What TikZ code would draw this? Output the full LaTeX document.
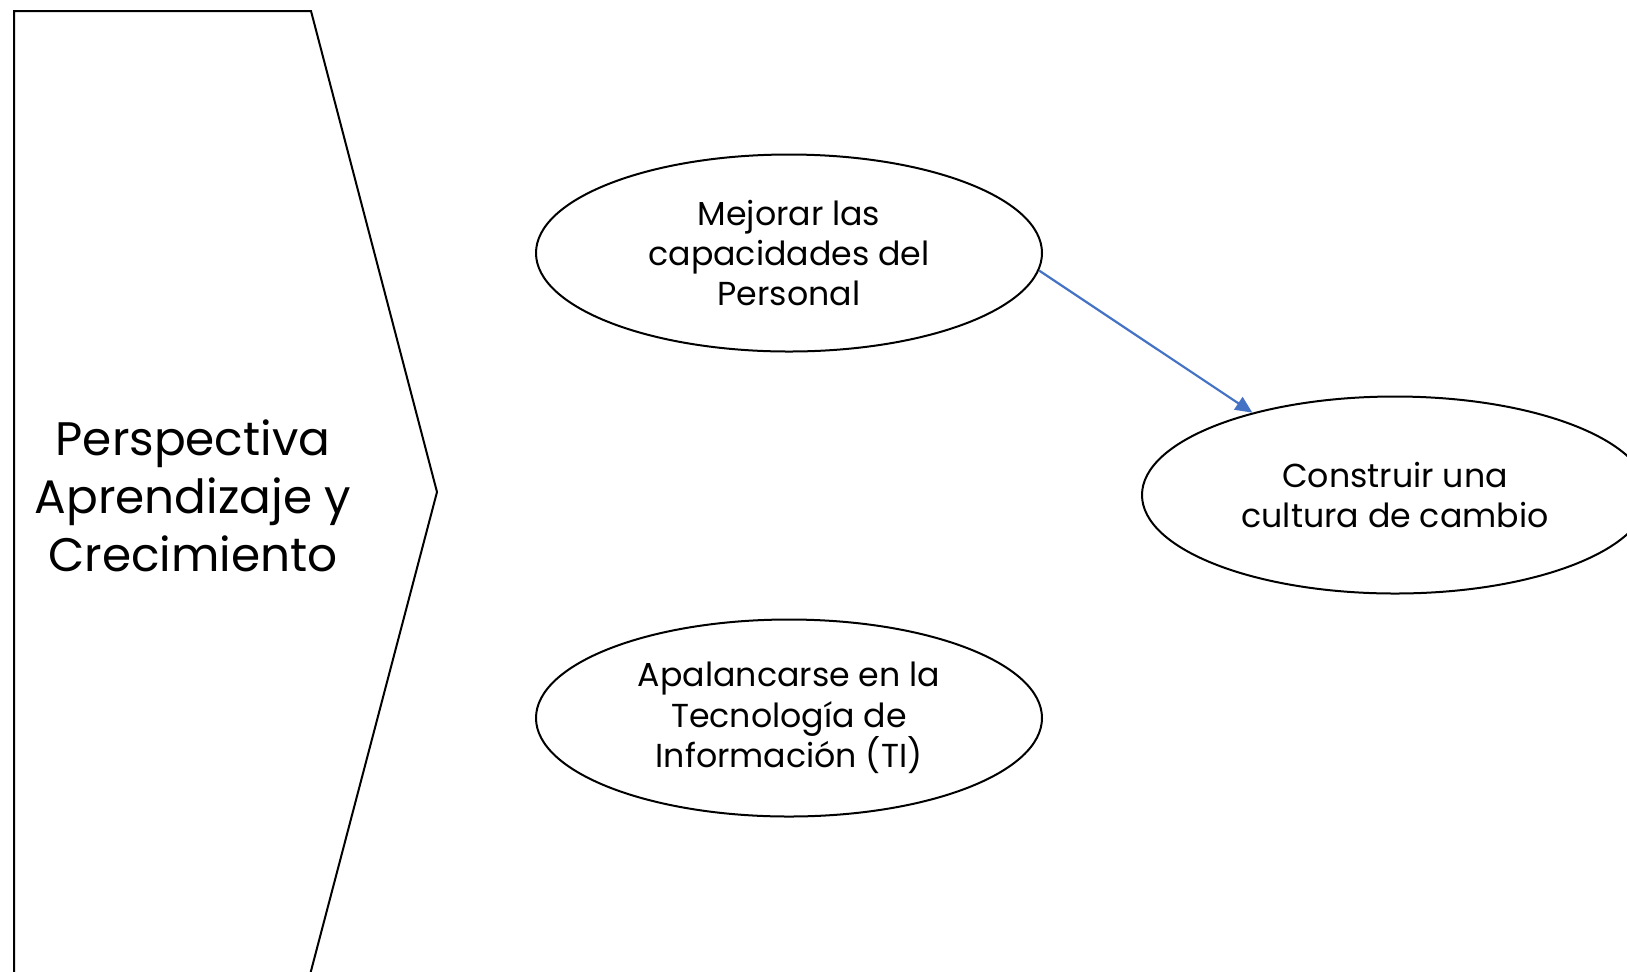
\documentclass[tikz,border=0pt]{standalone}
\usepackage{fontspec}
\setmainfont{Poppins}
\usetikzlibrary{shapes.geometric,arrows.meta}
\definecolor{linkblue}{HTML}{4472C4}
\begin{document}
\begin{tikzpicture}[x=0.5pt,y=-0.5pt,
  goal/.style={ellipse,draw,line width=1pt,minimum width=253pt,minimum height=98.5pt,
    inner sep=0pt,align=center,font=\fontsize{16.6}{20.2}\selectfont},
  band/.style={draw,line width=1pt,line join=miter},
  link/.style={draw=linkblue,line width=1.1pt,-{Triangle[length=8.5pt,width=7.5pt]}}]
  \useasboundingbox (0,0) rectangle (1627,971);
  \clip (0,0) rectangle (1627,971);
  % chevron band on the left
  \draw[band] (14,990) -- (14,11) -- (311,11) -- (437,492) -- (306,990);
  \node[align=center,font=\fontsize{23.5}{29}\selectfont] (persp) at (193,496)
    {Perspectiva\\Aprendizaje y\\Crecimiento};
  % objectives
  \node[goal] (mejorar) at (789,253) {Mejorar las\\capacidades del\\Personal};
  \node[goal] (apalanc) at (789,718) {Apalancarse en la\\Tecnología de\\Información (TI)};
  \node[goal] (cultura) at (1395,495) {Construir una\\cultura de cambio};
  \draw[link] (mejorar.-4.6) -- (cultura.150.5);
\end{tikzpicture}
\end{document}
